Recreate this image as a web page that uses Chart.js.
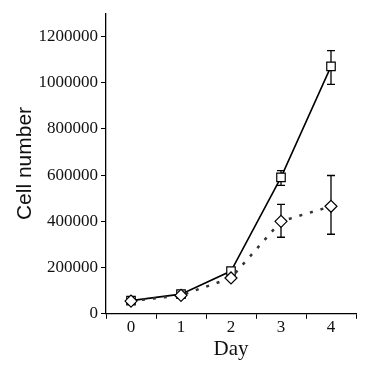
<!DOCTYPE html>
<html>
<head>
<meta charset="utf-8">
<script src="https://cdn.jsdelivr.net/npm/chart.js@4.4.1/dist/chart.umd.min.js"></script>
<style>
  html, body { margin: 0; padding: 0; background: #fff; }
  #wrap { width: 370px; height: 367px; }
</style>
</head>
<body>
<div id="wrap"><canvas id="c" width="370" height="367"></canvas></div>
<script>
const days = ['0', '1', '2', '3', '4'];

// square markers, solid line
const squareMean = [57000, 85000, 185000, 590000, 1070000];
const squareLow  = [50000, 78000, 172000, 555000, 992000];
const squareHigh = [64000, 92000, 198000, 619000, 1138000];

// diamond markers, dotted line
const diamondMean = [55000, 80000, 155000, 400000, 465000];
const diamondLow  = [49000, 74000, 145000, 331000, 344000];
const diamondHigh = [61000, 86000, 165000, 473000, 598000];

const yTicks = [0, 200000, 400000, 600000, 800000, 1000000, 1200000];

const errorBars = {
  id: 'errorBars',
  beforeDatasetsDraw(chart) {
    const ctx = chart.ctx;
    const x = chart.scales.x, y = chart.scales.y;
    chart.data.datasets.forEach(ds => {
      if (!ds.errLow) return;
      ctx.save();
      ctx.strokeStyle = '#000';
      ctx.lineWidth = 1.3;
      ds.data.forEach((v, i) => {
        const px = x.getPixelForValue(i);
        const top = y.getPixelForValue(ds.errHigh[i]);
        const bot = y.getPixelForValue(ds.errLow[i]);
        ctx.beginPath();
        ctx.moveTo(px, top); ctx.lineTo(px, bot);
        ctx.moveTo(px - 4, top); ctx.lineTo(px + 4, top);
        ctx.moveTo(px - 4, bot); ctx.lineTo(px + 4, bot);
        ctx.stroke();
      });
      ctx.restore();
    });
  }
};

new Chart(document.getElementById('c'), {
  type: 'line',
  data: {
    labels: days,
    datasets: [
      {
        data: diamondMean,
        errLow: diamondLow,
        errHigh: diamondHigh,
        borderColor: '#333',
        borderWidth: 2.5,
        borderDash: [3, 8],
        pointStyle: 'rectRot',
        pointRadius: 6,
        pointBorderWidth: 1.2,
        pointBorderColor: '#000',
        pointBackgroundColor: '#fff',
        tension: 0
      },
      {
        data: squareMean,
        errLow: squareLow,
        errHigh: squareHigh,
        borderColor: '#000',
        borderWidth: 1.6,
        pointStyle: 'rect',
        pointRadius: 6,
        pointBorderWidth: 1.2,
        pointBorderColor: '#000',
        pointBackgroundColor: '#fff',
        tension: 0
      }
    ]
  },
  options: {
    responsive: false,
    animation: false,
    layout: { padding: { top: 4, right: 14, left: 13, bottom: 5 } },
    plugins: { legend: { display: false }, tooltip: { enabled: false } },
    scales: {
      x: {
        type: 'category',
        offset: true,
        grid: { offset: true, drawOnChartArea: false, drawTicks: true, tickLength: 5, tickColor: '#000', tickWidth: 1 },
        border: { color: '#000', width: 1.3 },
        ticks: { color: '#111', padding: 0, font: { family: 'Liberation Serif', size: 17, lineHeight: 1 } },
        title: { display: true, text: 'Day', color: '#111', padding: { top: 1, bottom: 0 }, font: { family: 'Liberation Serif', size: 21 } }
      },
      y: {
        min: 0,
        max: 1300000,
        afterBuildTicks(scale) { scale.ticks = yTicks.map(v => ({ value: v })); },
        afterFit(scale) { scale.width = 93; },
        grid: { drawOnChartArea: false, drawTicks: true, tickLength: 5, tickColor: '#000', tickWidth: 1 },
        border: { color: '#000', width: 1.3 },
        ticks: { color: '#111', padding: 3, font: { family: 'Liberation Serif', size: 17 }, callback: v => String(v) },
        title: { display: true, text: 'Cell number', color: '#111', padding: { top: 0, bottom: 0 }, font: { family: 'Liberation Sans', size: 21 } }
      }
    }
  },
  plugins: [errorBars]
});
</script>
</body>
</html>
